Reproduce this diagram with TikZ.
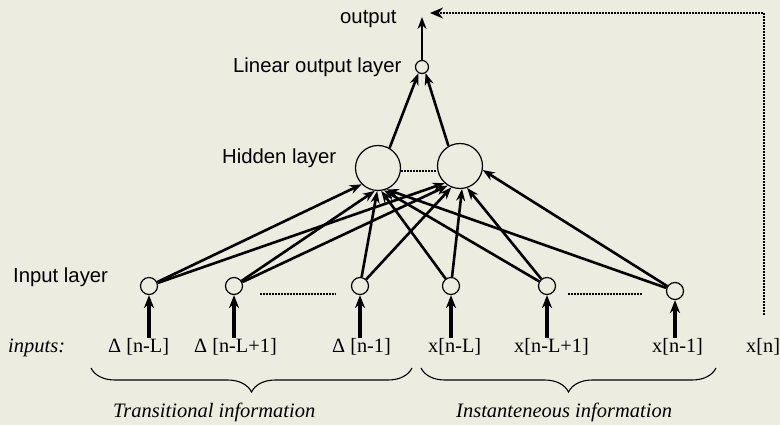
\documentclass[tikz,border=0pt]{standalone}
\usepackage{fontspec}
\setmainfont{Liberation Serif}
\newfontfamily\arialfont{Liberation Sans}
\usetikzlibrary{arrows.meta,decorations.pathreplacing}
\definecolor{bg}{RGB}{236,236,224}
\begin{document}
\begin{tikzpicture}[x=1pt,y=-1pt,
  sanslbl/.style={font=\arialfont\fontsize{20.3}{24}\selectfont, anchor=base west, inner sep=0pt},
  seriflbl/.style={font=\fontsize{20.3}{24}\selectfont, anchor=base west, inner sep=0pt},
  itlbl/.style={font=\itshape\fontsize{20.5}{24}\selectfont, anchor=base west, inner sep=0pt},
  innode/.style={circle, draw, fill=bg, line width=1.2pt, minimum size=17pt, inner sep=0pt},
  hidnode/.style={circle, draw, fill=bg, line width=1.2pt, minimum size=45pt, inner sep=0pt},
  outnode/.style={circle, draw, fill=bg, line width=1.2pt, minimum size=13pt, inner sep=0pt},
  conn/.style={line width=2.6pt, -{Stealth[length=12pt,width=9pt]}},
  inarr/.style={line width=3.4pt, -{Stealth[length=13pt,width=10pt]}},
  dotline/.style={line width=2.6pt, dash pattern=on 2pt off 1pt},
  fbline/.style={line width=2.6pt, dash pattern=on 2pt off 1pt, -{Stealth[length=13pt,width=11pt]}},
  bracestyle/.style={line width=1.1pt, decorate, decoration={brace, mirror, amplitude=24pt}}
]
\fill[bg] (0,0) rectangle (780,425);
\useasboundingbox (0,0) rectangle (780,425);

% labels
\node[sanslbl] (outlbl) at (340,24) {output};
\node[sanslbl] (linlbl) at (233,73) {Linear output layer};
\node[sanslbl] (hidlbl) at (222,164) {Hidden layer};
\node[sanslbl] (inlbl) at (13,282) {Input layer};
\node[itlbl] (inputs) at (8,352) {inputs:};
\node[seriflbl] (l1) at (108,352) {Δ [n-L]};
\node[seriflbl] (l2) at (194,352) {Δ [n-L+1]};
\node[seriflbl] (l3) at (332,352) {Δ [n-1]};
\node[seriflbl] (l4) at (428,352) {x[n-L]};
\node[seriflbl] (l5) at (514,352) {x[n-L+1]};
\node[seriflbl] (l6) at (652,352) {x[n-1]};
\node[seriflbl] (l7) at (746,352) {x[n]};
\node[itlbl] (trans) at (113,417) {Transitional information};
\node[itlbl] (inst) at (456,417) {Instanteneous information};

% nodes
\node[outnode] (o) at (422,67) {};
\node[hidnode] (h1) at (378,168) {};
\node[hidnode] (h2) at (460,166) {};
\node[innode] (i1) at (149,286) {};
\node[innode] (i2) at (234,286) {};
\node[innode] (i3) at (360,286) {};
\node[innode] (i4) at (451,286) {};
\node[innode] (i5) at (547,286) {};
\node[innode] (i6) at (675,291) {};

% input arrows
\foreach \k in {1,...,6} {
  \draw[inarr] (i\k |- l\k.north) -- (i\k);
}

% dotted separators
\draw[dotline] ([shift={(17pt,-8pt)}]i2.east) -- ([shift={(-15pt,-8pt)}]i3.west);
\draw[dotline] ([shift={(12pt,-8pt)}]i5.east) -- ([shift={(-23pt,-3pt)}]i6.west);
\draw[dotline] ([yshift=-3pt]h1.east) -- ([yshift=-5pt]h2.west);

% input -> hidden
\draw[conn] (i1) -- (h1.225);
\draw[conn] (i2) -- (h1.262);
\draw[conn] (i3) -- (h1.268);
\draw[conn] (i4) -- (h1.278);
\draw[conn] (i5) -- (h1.285);
\draw[conn] (i6) -- (h1.292);
\draw[conn] (i1) -- (h2.228);
\draw[conn] (i2) -- (h2.238);
\draw[conn] (i3) -- (h2.248);
\draw[conn] (i4) -- (h2.275);
\draw[conn] (i5) -- (h2.288);
\draw[conn] (i6) -- (h2.350);

% hidden -> output
\draw[conn] (h1.60) -- (o.240);
\draw[conn] (h2.120) -- (o.300);

% output arrow
\coordinate (otip) at (422,17);
\draw[conn, line width=2.8pt] (o) -- (otip);

% feedback
\coordinate (fbstart) at (764,315);
\coordinate (fbend) at (430,13);
\draw[fbline] (fbstart) |- (fbend);

% braces
\coordinate (b1a) at (91,368);
\coordinate (b1b) at (412,368);
\coordinate (b2a) at (421,368);
\coordinate (b2b) at (716,368);
\draw[bracestyle] (b1a) -- (b1b);
\draw[bracestyle] (b2a) -- (b2b);
\end{tikzpicture}
\end{document}
